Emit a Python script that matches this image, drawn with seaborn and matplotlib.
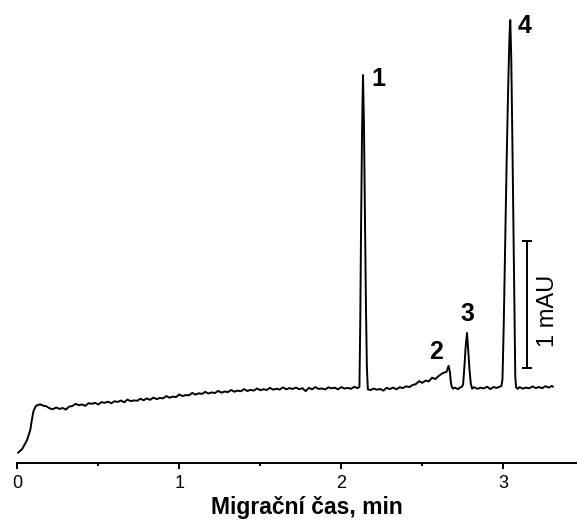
import matplotlib
matplotlib.use("Agg")
import matplotlib.pyplot as plt
from matplotlib.ticker import MultipleLocator
import numpy as np
import seaborn as sns

# electropherogram: time (min) and absorbance (mAU)
time_min = [
    0.004, 0.03, 0.06, 0.08, 0.09, 0.10, 0.115, 0.14,
    0.16, 0.18, 0.20, 0.22, 0.24, 0.26, 0.28, 0.30, 0.32, 0.34,
    0.36, 0.38, 0.40, 0.42, 0.44, 0.46, 0.48, 0.50, 0.52, 0.54,
    0.56, 0.58, 0.60, 0.62, 0.64, 0.66, 0.68, 0.70, 0.72, 0.74,
    0.76, 0.78, 0.80, 0.82, 0.84, 0.86, 0.88, 0.90, 0.92, 0.94,
    0.96, 0.98, 1.00, 1.02, 1.04, 1.06, 1.08, 1.10, 1.12, 1.14,
    1.16, 1.18, 1.20, 1.22, 1.24, 1.26, 1.28, 1.30, 1.32, 1.34,
    1.36, 1.38, 1.40, 1.42, 1.44, 1.46, 1.48, 1.50, 1.52, 1.54,
    1.56, 1.58, 1.60, 1.62, 1.64, 1.66, 1.68, 1.70, 1.72, 1.74,
    1.76, 1.78, 1.80, 1.82, 1.84, 1.86, 1.88, 1.90, 1.92, 1.94,
    1.96, 1.98, 2.00, 2.02, 2.04, 2.06, 2.08, 2.10,
    # peak 1
    2.112, 2.117, 2.122, 2.128, 2.134, 2.140, 2.146, 2.152, 2.158, 2.164,
    2.18, 2.20, 2.22, 2.24, 2.26, 2.28, 2.30, 2.32, 2.34, 2.36,
    2.38, 2.40, 2.42, 2.44, 2.46, 2.48, 2.50, 2.52, 2.54, 2.56,
    2.58, 2.60, 2.62, 2.635, 2.650,
    # peak 2
    2.662, 2.670, 2.676, 2.682, 2.690,
    2.70, 2.72, 2.735, 2.745,
    # peak 3
    2.752, 2.760, 2.768, 2.776, 2.783, 2.791, 2.799, 2.807,
    2.82, 2.84, 2.86, 2.88, 2.90, 2.92, 2.94, 2.96, 2.975, 2.988,
    # peak 4
    2.995, 3.003, 3.012, 3.021, 3.030, 3.038, 3.043, 3.049, 3.056,
    3.063, 3.069, 3.074, 3.079,
    3.09, 3.10, 3.12, 3.14, 3.16, 3.18, 3.20, 3.22, 3.24, 3.26,
    3.28, 3.30, 3.307,
]
signal_mau = [
    0.08, 0.11, 0.18, 0.26, 0.34, 0.41, 0.45, 0.462,
    0.452, 0.446, 0.430, 0.424, 0.437, 0.426, 0.433, 0.421, 0.444, 0.449,
    0.466, 0.455, 0.461, 0.450, 0.471, 0.466, 0.474, 0.461, 0.479, 0.474,
    0.483, 0.470, 0.486, 0.481, 0.492, 0.478, 0.499, 0.487, 0.493, 0.490,
    0.506, 0.494, 0.509, 0.497, 0.515, 0.503, 0.512, 0.509, 0.527, 0.514,
    0.523, 0.519, 0.540, 0.527, 0.535, 0.533, 0.552, 0.538, 0.549, 0.544,
    0.560, 0.547, 0.556, 0.551, 0.568, 0.554, 0.563, 0.558, 0.575, 0.561,
    0.570, 0.565, 0.582, 0.567, 0.576, 0.570, 0.587, 0.573, 0.581, 0.575,
    0.592, 0.577, 0.585, 0.578, 0.596, 0.580, 0.590, 0.583, 0.594, 0.581,
    0.589, 0.566, 0.592, 0.580, 0.598, 0.583, 0.587, 0.579, 0.596, 0.588,
    0.593, 0.580, 0.598, 0.586, 0.592, 0.584, 0.600, 0.590,
    0.60, 1.10, 1.85, 2.60, 3.055, 2.65, 1.95, 1.25, 0.75, 0.58,
    0.574, 0.586, 0.577, 0.583, 0.570, 0.592, 0.582, 0.594, 0.580, 0.597,
    0.590, 0.604, 0.598, 0.614, 0.621, 0.645, 0.631, 0.649, 0.642, 0.672,
    0.661, 0.684, 0.703, 0.712, 0.718,
    0.765, 0.720, 0.640, 0.600, 0.585,
    0.594, 0.582, 0.596, 0.600,
    0.62, 0.76, 0.92, 1.024, 0.90, 0.74, 0.63, 0.586,
    0.597, 0.584, 0.593, 0.587, 0.601, 0.582, 0.598, 0.591, 0.600, 0.605,
    0.66, 1.10, 1.75, 2.40, 2.95, 3.35, 3.488, 3.20, 2.55,
    1.80, 1.10, 0.68, 0.595,
    0.584, 0.598, 0.585, 0.594, 0.588, 0.603, 0.590, 0.598, 0.589, 0.605,
    0.593, 0.607, 0.600,
]

peak_labels = ["1", "2", "3", "4"]
peak_times = [2.134, 2.662, 2.776, 3.043]
# offsets of the labels from each apex, in points
label_offsets = [(11, -3), (-9, 10), (0, 14), (10, -4)]

scale_bar_time = 3.146
scale_bar_low = 0.75
scale_bar_high = 1.75
scale_bar_text = "1 mAU"

sns.set_style("white")
plt.rcParams["font.family"] = ["Liberation Sans", "DejaVu Sans"]
plt.rcParams["text.color"] = "black"
plt.rcParams["axes.labelcolor"] = "black"
plt.rcParams["xtick.color"] = "black"

fig = plt.figure(figsize=(5.77, 5.21), dpi=100)
ax = fig.add_axes([17.3 / 577, 58 / 521, 1 - 17.3 / 577, 1 - 58 / 521])

sns.lineplot(x=time_min, y=signal_mau, color="black", lw=1.4, ax=ax,
             sort=False, estimator=None)

# peak numbers
for lab, tp, off in zip(peak_labels, peak_times, label_offsets):
    i = int(np.argmin(np.abs(np.array(time_min) - tp)))
    ax.annotate(lab, (time_min[i], signal_mau[i]), xytext=off,
                textcoords="offset points", ha="center", va="center",
                fontsize=18, fontweight="bold", color="black")

# 1 mAU scale bar
mid = (scale_bar_low + scale_bar_high) / 2
half = (scale_bar_high - scale_bar_low) / 2
ax.errorbar([scale_bar_time], [mid], yerr=[half], fmt="none", ecolor="black",
            elinewidth=1.4, capsize=3.6, capthick=1.4)
ax.text(scale_bar_time + 0.13, mid - 0.05, scale_bar_text, rotation=90,
        ha="center", va="center", fontsize=17, color="black")

ax.set_xlim(0, 3.455)
ax.set_ylim(0, 3.646)

for s in ["left", "top", "right"]:
    ax.spines[s].set_visible(False)
ax.spines["bottom"].set_linewidth(1.4)
ax.spines["bottom"].set_color("black")
ax.set_yticks([])
ax.xaxis.set_major_locator(MultipleLocator(1))
ax.xaxis.set_minor_locator(MultipleLocator(0.5))
ax.tick_params(axis="x", which="major", direction="out", length=4.5, width=1.4,
               color="black", labelcolor="black", bottom=True, labelsize=13,
               pad=4)
ax.tick_params(axis="x", which="minor", direction="out", length=2.3, width=1.4,
               color="black", bottom=True)
ax.set_ylabel("")
ax.set_xlabel("Migrační čas, min", fontsize=16.5, fontweight="bold",
              labelpad=3, x=0.517, color="black")

fig.savefig("out.png", dpi=100)
